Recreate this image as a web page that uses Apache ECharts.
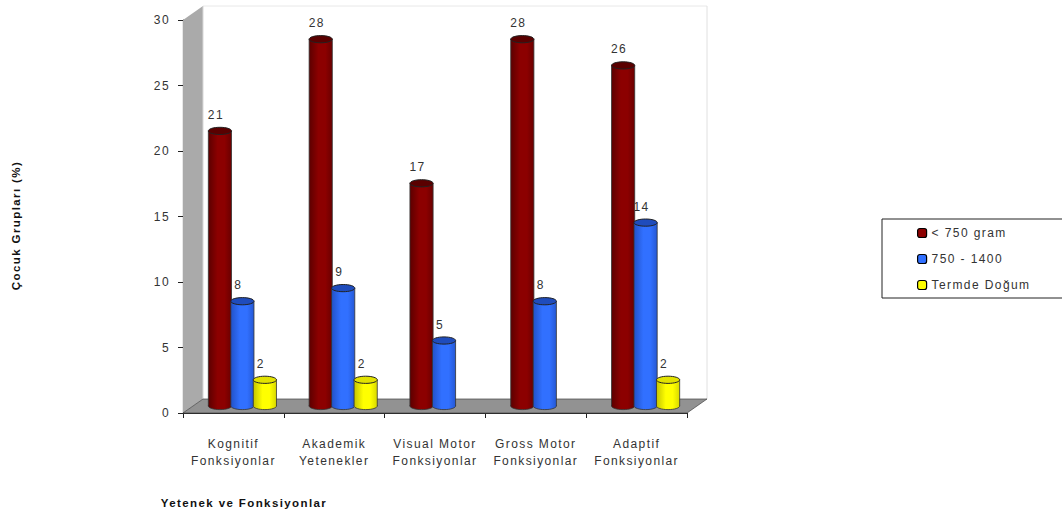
<!DOCTYPE html>
<html>
<head>
<meta charset="utf-8">
<style>
  html, body { margin: 0; padding: 0; background: #fff; }
  #chart { width: 1062px; height: 516px; }
  /* the original labels are widely tracked */
  #chart text { letter-spacing: 1.4px; }
</style>
<script src="https://cdn.jsdelivr.net/npm/echarts@6/dist/echarts.min.js"></script>
</head>
<body>
<div id="chart"></div>
<script>
  var categories = ['Kognitif\nFonksiyonlar', 'Akademik\nYetenekler', 'Visual Motor\nFonksiyonlar', 'Gross Motor\nFonksiyonlar', 'Adaptif\nFonksiyonlar'];
  var under750 = [21, 28, 17, 28, 26];
  var from750to1400 = [8, 9, 5, 8, 14];
  var termBirth = [2, 2, null, null, 2];

  var seriesNames = ['< 750 gram', '750 - 1400', 'Termde Doğum'];
  var xTitle = 'Yetenek ve Fonksiyonlar';
  var yTitle = 'Çocuk Grupları (%)';

  // dark edge, mid, right edge, top cap
  var palette = [
    ['#5c0000', '#8c0000', '#6a0000', '#5a0000'],
    ['#2252c8', '#3170ff', '#2558d4', '#1f4cbc'],
    ['#c4c400', '#ffff00', '#d8d800', '#e2e200']
  ];

  var depthX = 20, depthY = -14;   // walls
  var barX = 9, barY = -7;         // bars stand in the middle of the floor
  var seriesStep = 0.223, barWidth = 0.23, capRy = 3.6;

  function makeCylinder(idx) {
    return function (params, api) {
      var value = api.value(1);
      if (value === null || isNaN(value)) return;
      var band = api.size([1, 0])[0];
      var top = api.coord([api.value(0), value]);
      var base = api.coord([api.value(0), 0]);
      var cx = top[0] + barX + (idx - 1) * seriesStep * band;
      var rx = barWidth * band / 2;
      var yTop = top[1] + barY;
      var yBase = base[1] + barY;
      var c = palette[idx];
      var fill = new echarts.graphic.LinearGradient(0, 0, 1, 0, [
        { offset: 0, color: c[0] },
        { offset: 0.4, color: c[1] },
        { offset: 0.7, color: c[1] },
        { offset: 1, color: c[2] }
      ]);
      var edge = { stroke: '#333', lineWidth: 0.8 };
      return {
        type: 'group',
        children: [
          { type: 'ellipse', shape: { cx: cx, cy: yBase, rx: rx, ry: capRy }, style: { fill: fill, stroke: edge.stroke, lineWidth: edge.lineWidth } },
          { type: 'rect', shape: { x: cx - rx, y: yTop, width: rx * 2, height: yBase - yTop }, style: { fill: fill } },
          { type: 'line', shape: { x1: cx - rx, y1: yTop, x2: cx - rx, y2: yBase }, style: edge },
          { type: 'line', shape: { x1: cx + rx, y1: yTop, x2: cx + rx, y2: yBase }, style: edge },
          { type: 'ellipse', shape: { cx: cx, cy: yTop, rx: rx, ry: capRy }, style: { fill: c[3], stroke: '#222', lineWidth: 1 } },
          {
            type: 'text',
            style: {
              x: cx - 4, y: yTop - 16, text: String(value), fill: '#333',
              font: '12px "Liberation Sans", Arial, sans-serif',
              align: 'center', verticalAlign: 'middle'
            }
          }
        ]
      };
    };
  }

  // wall and floor of the fake 3D box, taken from the grid rectangle
  function renderBox(params) {
    var g = params.coordSys;
    var l = g.x, r = g.x + g.width, t = g.y, b = g.y + g.height;
    return {
      type: 'group',
      children: [
        { type: 'line', shape: { x1: l + depthX, y1: t + depthY, x2: r + depthX, y2: t + depthY }, style: { stroke: '#e8e8e8', lineWidth: 1 } },
        { type: 'line', shape: { x1: r + depthX, y1: t + depthY, x2: r + depthX, y2: b + depthY }, style: { stroke: '#e0e0e0', lineWidth: 1 } },
        { type: 'polygon', shape: { points: [[l, t], [l + depthX, t + depthY], [l + depthX, b + depthY], [l, b]] }, style: { fill: '#aaaaaa' } },
        { type: 'line', shape: { x1: l + depthX, y1: t + depthY, x2: l + depthX, y2: b + depthY }, style: { stroke: '#d8d8d8', lineWidth: 1 } },
        { type: 'polygon', shape: { points: [[l, b], [l + depthX, b + depthY], [r + depthX, b + depthY], [r, b]] }, style: { fill: '#929292', stroke: '#444', lineWidth: 0.7 } }
      ]
    };
  }

  var allValues = [under750, from750to1400, termBirth];
  var series = [{
    name: 'box',
    type: 'custom',
    renderItem: renderBox,
    data: [[0, 0]],
    silent: true,
    z: 1
  }];
  seriesNames.forEach(function (name, i) {
    series.push({
      name: name,
      type: 'custom',
      renderItem: makeCylinder(i),
      encode: { x: 0, y: 1 },
      data: allValues[i].map(function (v, k) { return [k, v]; }),
      itemStyle: { color: palette[i][1] },
      z: 3 + i
    });
  });

  var font = '"Liberation Sans", Arial, sans-serif';
  var chart = echarts.init(document.getElementById('chart'), null, { renderer: 'svg' });
  chart.setOption({
    animation: false,
    backgroundColor: '#fff',
    grid: { left: 183, top: 20, width: 504, height: 393 },
    legend: {
      data: seriesNames,
      orient: 'vertical',
      left: 882,
      top: 219,
      padding: [7, 60, 6, 35],
      itemWidth: 9,
      itemHeight: 9,
      itemGap: 12,
      icon: 'roundRect',
      itemStyle: { borderColor: '#000', borderWidth: 1.2 },
      borderColor: '#222',
      borderWidth: 1,
      backgroundColor: '#fff',
      selectedMode: false,
      textStyle: { fontFamily: font, fontSize: 12, color: '#333', lineHeight: 14 }
    },
    xAxis: {
      type: 'category',
      data: categories,
      name: xTitle,
      nameLocation: 'middle',
      nameGap: 84,
      nameTextStyle: { fontFamily: font, fontSize: 11.5, fontWeight: 'bold', color: '#111', padding: [0, 382, 0, 0] },
      axisLine: { lineStyle: { color: '#222', width: 1.2 } },
      axisTick: { show: true, length: 5, lineStyle: { color: '#222' } },
      axisLabel: { fontFamily: font, fontSize: 12, color: '#333', margin: 22, lineHeight: 17, interval: 0 }
    },
    yAxis: {
      type: 'value',
      min: 0,
      max: 30,
      interval: 5,
      name: yTitle,
      nameLocation: 'middle',
      nameGap: 161,
      nameRotate: 90,
      nameTextStyle: { fontFamily: font, fontSize: 11.5, fontWeight: 'bold', color: '#111', padding: [0, 18, 0, 0] },
      splitLine: { show: false },
      axisLine: { show: true, lineStyle: { color: '#222', width: 1.2 } },
      axisTick: { show: true, length: 5, lineStyle: { color: '#222' } },
      axisLabel: { fontFamily: font, fontSize: 12, color: '#333', margin: 13 }
    },
    series: series
  });
</script>
</body>
</html>
